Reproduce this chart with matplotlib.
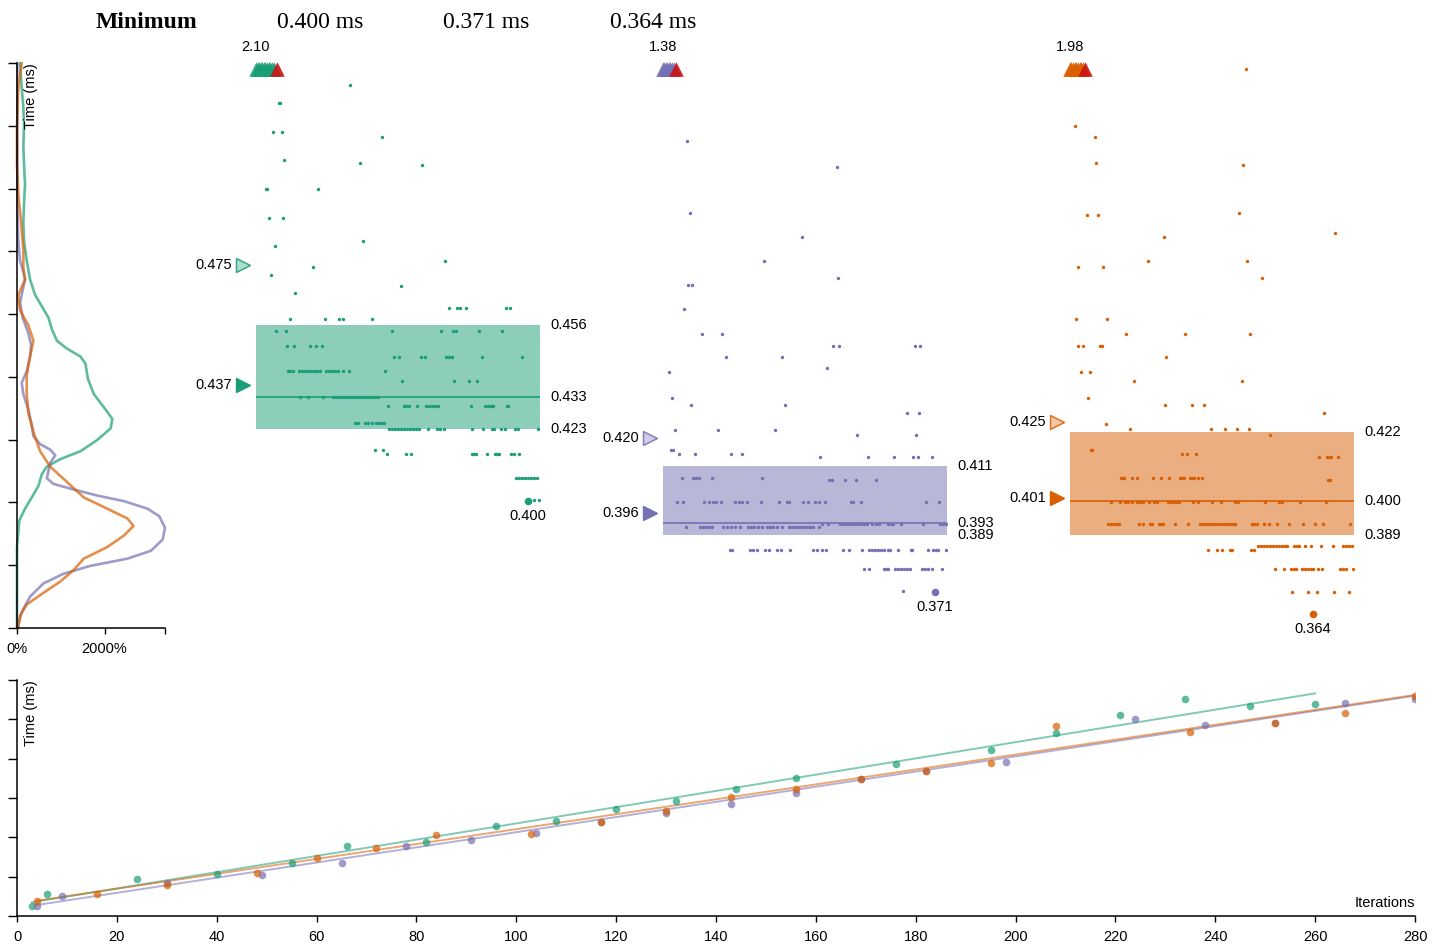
import numpy as np
import matplotlib
matplotlib.use("Agg")
import matplotlib.pyplot as plt
from matplotlib.patches import Rectangle
from matplotlib.transforms import blended_transform_factory, offset_copy

plt.rcParams['font.family'] = ['Liberation Sans', 'DejaVu Sans']

# ---------------- data ----------------
colors = ["#1b9e77", "#7570b3", "#d95f02"]

q1_vals = [0.423, 0.389, 0.389]
median_vals = [0.433, 0.393, 0.400]
q3_vals = [0.456, 0.411, 0.422]
mean_vals = [0.437, 0.396, 0.401]
upper_vals = [0.475, 0.420, 0.425]

# samples: (time in ms, [sample indices])
green_rows = [
    (0.5326, [94]), (0.5266, [23, 24]), (0.5175, [17, 26]), (0.5160, [126]),
    (0.5085, [28]), (0.5077, [104]), (0.5070, [166]), (0.4993, [10, 11, 62]),
    (0.4902, [13, 27]), (0.4827, [107]), (0.4813, [19]), (0.4764, [189]),
    (0.4744, [57]), (0.4721, [15]), (0.4686, [145]), (0.4663, [39]),
    (0.4613, [193, 201, 204, 210, 250, 254]),
    (0.4578, [34, 69, 83, 87, 116]),
    (0.4540, [20, 30, 136, 185, 197, 200, 223, 246]),
    (0.4495, [31, 38, 54, 60, 66]),
    (0.4457, [138, 143, 165, 169, 190, 193, 196, 226, 266]),
    (0.4413, [32, 34, 37, 43, 46, 49, 52, 55, 58, 61, 64, 70, 73, 76, 79, 82, 87, 93, 129]),
    (0.4381, [146, 198, 213, 221]),
    (0.4330, [44, 52, 67, 77, 80, 83, 86, 89, 92, 95, 98, 101, 104, 107, 110, 113, 116, 119, 122]),
    (0.4302, [132, 148, 150, 153, 161, 170, 173, 176, 179, 182, 215, 229, 232, 235, 237, 251, 252]),
    (0.4247, [99, 102, 109, 112, 116, 120, 123, 125, 128]),
    (0.4228, [133, 136, 139, 142, 145, 148, 151, 154, 157, 160, 163, 172, 181, 184, 188, 216,
              227, 236, 238, 245, 249, 259, 262, 282]),
    (0.4162, [119, 127]),
    (0.4149, [131, 150, 155, 216, 218, 220, 231, 239, 241, 243, 255, 258, 263]),
    (0.4073, [260, 263, 266, 269, 272, 275, 278, 281]),
    (0.4003, [278, 283]),
    (0.4000, [272]),
]
purple_rows = [
    (0.5147, [24]), (0.5064, [174]), (0.4916, [27]), (0.4840, [139]),
    (0.4764, [101]), (0.4709, [175]), (0.4687, [25, 29]), (0.4610, [21]),
    (0.4533, [39, 59]), (0.4495, [170, 176, 252, 257]), (0.4457, [63, 119]),
    (0.4423, [164]), (0.4412, [6]), (0.4329, [9]), (0.4304, [28, 122]),
    (0.4281, [244, 256]), (0.4227, [12, 55, 112]), (0.4210, [194, 253]),
    (0.4162, [8, 10]), (0.4149, [16, 32, 68, 79]),
    (0.4139, [157, 205, 231, 250, 255, 269]),
    (0.4073, [19, 30, 33, 36, 49, 99]),
    (0.4067, [166, 169, 182, 193, 213]),
    (0.3997, [14, 20, 41, 46, 50, 53, 58, 72, 76, 79, 84, 98, 116, 124, 126, 140, 145, 152,
              156, 162, 188, 190, 198, 263, 276]),
    (0.3925, [159, 165, 177, 180, 183, 186, 189, 192, 195, 198, 201, 204, 209, 213, 216, 225,
              228, 230, 238, 260, 277, 280, 283]),
    (0.3918, [23, 37, 40, 43, 46, 49, 60, 64, 68, 72, 77, 85, 88, 91, 95, 99, 104, 107, 110,
              114, 119, 126, 129, 132, 135, 138, 141, 144, 147, 150, 156]),
    (0.3843, [67, 69, 87, 90, 94, 102, 106, 114, 118, 127, 150, 154, 159, 163, 180, 186, 199,
              206, 209, 212, 215, 218, 221, 225, 227, 235, 248, 249, 265, 270, 273, 275, 283]),
    (0.3783, [201, 206, 221, 223, 225, 232, 235, 238, 241, 244, 247, 259, 262, 265, 269, 279]),
    (0.3712, [240]),
    (0.3710, [272]),
]
orange_rows = [
    (0.5377, [176]), (0.5193, [5]), (0.5160, [25]), (0.5076, [26]), (0.5070, [173]),
    (0.4916, [169]), (0.4911, [17, 28]), (0.4852, [265]), (0.4840, [94]),
    (0.4764, [78, 177]), (0.4744, [8, 33]), (0.4709, [192]), (0.4579, [6, 37]),
    (0.4533, [56, 115, 180]), (0.4495, [8, 13, 30, 32]), (0.4457, [96]),
    (0.4412, [11, 20]), (0.4381, [64, 172]), (0.4329, [18]), (0.4304, [95, 122, 134]),
    (0.4281, [254]), (0.4246, [36]), (0.4228, [60, 141, 155, 167, 179]), (0.4210, [200]),
    (0.4162, [21, 22]), (0.4149, [112, 117, 126]), (0.4139, [249, 257, 259, 261, 268]),
    (0.4073, [51, 52, 54, 62, 67, 83, 91, 99, 110, 112, 114, 120, 122, 124, 128, 132]),
    (0.4067, [258, 260]),
    (0.3997, [41, 50, 55, 58, 62, 67, 70, 73, 79, 84, 87, 98, 101, 104, 107, 109, 123, 128,
              142, 151, 165, 168, 195, 209, 212, 230, 256]),
    (0.3925, [38, 41, 44, 47, 49, 69, 73, 80, 82, 89, 91, 93, 105, 118, 130, 133, 136, 139,
              142, 145, 148, 151, 154, 157, 160, 163, 165, 182, 184, 187, 194, 199, 207, 219,
              233, 245, 253, 280]),
    (0.3855, [188, 191, 194, 197, 200, 203, 206, 209, 212, 215, 217, 224, 227, 229, 235, 241,
              251, 263, 273, 276, 279, 282]),
    (0.3843, [138, 147, 152, 160, 162, 181, 184]),
    (0.3783, [205, 214, 221, 224, 226, 232, 235, 238, 241, 243, 248, 252, 270, 273, 276, 283]),
    (0.3711, [222, 238, 247, 264, 279]),
    (0.3640, [243]),
]
all_rows = [green_rows, purple_rows, orange_rows]

# outliers above the plotted range (sample index, time in ms)
green_out_idx = [0, 2, 3, 5, 6, 8, 9, 11, 13, 14, 16, 18, 21]
green_out_val = [0.62, 0.71, 0.58, 0.84, 0.66, 0.93, 0.60, 0.77, 0.69, 1.12, 0.64, 0.81, 2.10]
purple_out_idx = [0, 1, 3, 4, 6, 7, 9, 11, 13]
purple_out_val = [0.58, 0.64, 0.72, 0.60, 0.86, 0.67, 0.61, 0.75, 1.38]
orange_out_idx = [0, 1, 3, 5, 6, 8, 10, 11, 13, 15]
orange_out_val = [0.60, 0.74, 0.66, 0.92, 0.58, 0.70, 0.63, 0.81, 0.68, 1.98]
out_idx = [green_out_idx, purple_out_idx, orange_out_idx]
out_val = [green_out_val, purple_out_val, orange_out_val]

# density curves (time ms, density %)
green_dens_t = [0.3595, 0.3853, 0.3938, 0.3975, 0.4011, 0.4048, 0.4085, 0.4109, 0.4133, 0.4158,
                0.4194, 0.4231, 0.4261, 0.4291, 0.4340, 0.4389, 0.4437, 0.4460, 0.4485, 0.4510,
                0.4546, 0.4583, 0.4620, 0.4656, 0.4705, 0.4766, 0.4827, 0.4887, 0.4948, 0.5009,
                0.5070, 0.5131, 0.5192, 0.5253, 0.5314, 0.5395]
green_dens_p = [0, 0, 54, 184, 337, 490, 567, 682, 989, 1449, 1833, 2139, 2178, 2024, 1756, 1619,
                1564, 1449, 1143, 913, 798, 720, 567, 414, 299, 222, 161, 145, 161, 184, 161, 145,
                161, 145, 108, 69]
purple_dens_t = [0.3595, 0.3646, 0.3695, 0.3737, 0.3768, 0.3793, 0.3816, 0.3841, 0.3877, 0.3914,
                 0.3951, 0.3975, 0.3999, 0.4017, 0.4036, 0.4054, 0.4072, 0.4096, 0.4121, 0.4145,
                 0.4163, 0.4181, 0.4206, 0.4242, 0.4291, 0.4340, 0.4376, 0.4413, 0.4460, 0.4497,
                 0.4534, 0.4583, 0.4632, 0.4681, 0.4705, 0.4729, 0.4766, 0.4827, 0.4948, 0.5192,
                 0.5395]
purple_dens_p = [7, 108, 299, 605, 1066, 1679, 2523, 3059, 3328, 3381, 3251, 2983, 2447, 1833,
                 1296, 835, 682, 720, 759, 874, 759, 529, 375, 337, 260, 145, 108, 222, 299, 322,
                 260, 130, 69, 145, 184, 145, 69, 30, 7, 7, 7]
orange_dens_t = [0.3595, 0.3634, 0.3670, 0.3707, 0.3743, 0.3780, 0.3816, 0.3853, 0.3890, 0.3920,
                 0.3944, 0.3975, 0.4011, 0.4060, 0.4109, 0.4158, 0.4219, 0.4279, 0.4340, 0.4400,
                 0.4460, 0.4510, 0.4559, 0.4607, 0.4656, 0.4705, 0.4742, 0.4802, 0.4863, 0.4924,
                 0.4973, 0.5070, 0.5192, 0.5314, 0.5395]
orange_dens_p = [30, 69, 222, 605, 989, 1296, 1525, 2063, 2447, 2661, 2523, 2063, 1525, 1143, 759,
                 529, 375, 260, 222, 222, 299, 375, 260, 69, 30, 184, 145, 145, 108, 69, 30, 0, 0,
                 30, 108]
dens_t = [green_dens_t, purple_dens_t, orange_dens_t]
dens_p = [green_dens_p, purple_dens_p, orange_dens_p]

# regression panel: iterations vs total time (ms)
green_iters = [3, 6, 24, 40, 55, 66, 82, 96, 108, 120, 132, 144, 156, 176, 195, 208, 221, 234, 247, 260]
green_times = [5.2, 11.3, 18.8, 21.2, 26.9, 35.7, 37.5, 45.9, 48.5, 54.2, 58.6, 64.7, 70.3, 77.1,
               84.2, 93.2, 102.2, 110.2, 106.6, 107.8]
purple_iters = [4, 9, 30, 49, 65, 78, 91, 104, 117, 130, 143, 156, 169, 182, 198, 224, 238, 252, 266, 280]
purple_times = [5.2, 10.0, 16.9, 20.7, 26.9, 35.6, 38.5, 42.2, 47.9, 52.2, 56.9, 62.5, 69.5, 73.7,
                78.5, 100.2, 97.1, 98.0, 108.3, 110.5]
orange_iters = [4, 16, 30, 48, 60, 72, 84, 103, 117, 130, 143, 156, 169, 182, 195, 208, 235, 252, 266, 280]
orange_times = [7.8, 11.0, 15.6, 21.7, 29.6, 34.7, 41.0, 41.5, 47.9, 53.4, 60.4, 64.7, 69.5, 73.7,
                77.8, 96.5, 93.6, 98.0, 103.4, 111.9]
reg_iters = [green_iters, purple_iters, orange_iters]
reg_times = [green_times, purple_times, orange_times]
reg_slope = [0.4132, 0.3855, 0.3790]
reg_intercept = [5.76, 4.06, 6.28]

# ---------------- layout ----------------
W, H = 1444, 944
fig = plt.figure(figsize=(W / 100, H / 100), dpi=100)


def rect(x0, y0, x1, y1):
    return [x0 / W, 1 - y1 / H, (x1 - x0) / W, (y1 - y0) / H]


TIME_RANGE = (0.3595, 0.5395)
N_SAMPLES = 284
TOP, BOTTOM = 63, 628
col_left = [256, 663, 1070]
FS = 10.5


def px(ax, trans, dx=0, dy=0):
    return offset_copy(trans, fig=fig, x=dx, y=dy, units='dots')


minimums = []
for i, rows in enumerate(all_rows):
    col = colors[i]
    ax = fig.add_axes(rect(col_left[i], TOP, col_left[i] + N_SAMPLES, BOTTOM))
    ax.set_xlim(0, N_SAMPLES)
    ax.set_ylim(*TIME_RANGE)
    ax.axis('off')
    xs, ys = [], []
    for v, idxs in rows:
        xs += idxs
        ys += [v] * len(idxs)
    ax.add_patch(Rectangle((0, q1_vals[i]), N_SAMPLES, q3_vals[i] - q1_vals[i],
                           facecolor=col, alpha=0.5, lw=0, zorder=1))
    ax.plot([0, N_SAMPLES], [median_vals[i]] * 2, color=col, lw=1.2, zorder=2)
    ax.scatter(xs, ys, s=6, color=col, lw=0, zorder=3)
    k = int(np.argmin(ys))
    minimums.append(ys[k])
    ax.scatter([xs[k]], [ys[k]], s=30, color=col, lw=0, zorder=4)
    ax.text(xs[k], ys[k], f"{ys[k]:.3f}", transform=px(ax, ax.transData, dy=-15),
            ha='center', va='center', fontsize=FS)

    tr_r = blended_transform_factory(ax.transAxes, ax.transData)
    for val in (q3_vals[i], median_vals[i], q1_vals[i]):
        ax.text(1, val, f"{val:.3f}", transform=px(ax, tr_r, dx=10), ha='left', va='center',
                fontsize=FS)
    # mean markers on the left
    ax.plot([0], [mean_vals[i]], marker='>', ms=9.5, color=col, mec=col, lw=0,
            transform=px(ax, tr_r, dx=-13), clip_on=False)
    ax.text(0, mean_vals[i], f"{mean_vals[i]:.3f}", transform=px(ax, tr_r, dx=-24),
            ha='right', va='center', fontsize=FS)
    ax.plot([0], [upper_vals[i]], marker='>', ms=9.5, mfc=col, mec=col, lw=0, alpha=0.35,
            transform=px(ax, tr_r, dx=-13), clip_on=False)
    ax.plot([0], [upper_vals[i]], marker='>', ms=9.5, mfc='none', mec=col, mew=1.0, lw=0,
            alpha=0.8, transform=px(ax, tr_r, dx=-13), clip_on=False)
    ax.text(0, upper_vals[i], f"{upper_vals[i]:.3f}", transform=px(ax, tr_r, dx=-24),
            ha='right', va='center', fontsize=FS)

    # outliers as triangles at top
    tr_t = blended_transform_factory(ax.transData, ax.transAxes)
    oi, ov = out_idx[i], out_val[i]
    m = int(np.argmax(ov))
    others = [j for j in range(len(oi)) if j != m]
    ax.scatter([oi[j] for j in others], [1] * len(others), marker='^', s=110, color=col,
               alpha=0.85, lw=0, transform=px(ax, tr_t, dy=-6), clip_on=False, zorder=5)
    ax.scatter([oi[m]], [1], marker='^', s=110, color='#cc1111', alpha=0.9, lw=0,
               transform=px(ax, tr_t, dy=-6), clip_on=False, zorder=6)
    ax.text(oi[0], 1, f"{ov[m]:.2f}", transform=px(ax, tr_t, dy=16), ha='center',
            va='center', fontsize=FS)

# density panel
axd = fig.add_axes(rect(17, TOP, 165, BOTTOM))
for i in range(3):
    axd.plot(dens_p[i], dens_t[i], color=colors[i], alpha=0.7, lw=1.9,
             solid_joinstyle='round', solid_capstyle='round', clip_on=False)
xmax = max(max(p) for p in dens_p)
axd.set_xlim(0, xmax)
axd.set_ylim(*TIME_RANGE)
axd.set_yticks(np.linspace(TIME_RANGE[0], TIME_RANGE[1], 10))
axd.set_yticklabels([])
axd.set_xticks([0, 2000, xmax])
axd.set_xticklabels(['0%', '2000%', ''])
for s in ('top', 'right'):
    axd.spines[s].set_visible(False)
for s in ('left', 'bottom'):
    axd.spines[s].set_linewidth(1.1)
axd.tick_params(axis='y', length=6.5, width=1.0)
axd.tick_params(axis='x', length=4.5, width=1.0, labelsize=FS, pad=5.5)
fig.text(31 / W, 1 - TOP / H, "Time (ms)", rotation=90, ha='center', va='top', fontsize=FS)

# header
serif = ['Liberation Serif', 'DejaVu Serif']
fig.text(146.5 / W, 1 - 23 / H, "Minimum", family=serif, fontweight='bold', fontsize=17,
         ha='center', va='center')
for i, xc in enumerate([320.5, 486.5, 653.5]):
    fig.text(xc / W, 1 - 23 / H, f"{minimums[i]:.3f} ms", family=serif, fontsize=17,
             ha='center', va='center')

# regression panel
axb = fig.add_axes(rect(17, 680, 1415, 916))
for i in range(3):
    it = reg_iters[i]
    xl = np.array([it[0], it[-1]])
    axb.plot(xl, reg_intercept[i] + reg_slope[i] * xl, color=colors[i], alpha=0.55, lw=1.4)
    axb.scatter(it, reg_times[i], s=30, color=colors[i], alpha=0.7, lw=0, zorder=3)
axb.set_xlim(0, 280)
axb.set_ylim(0, 120)
axb.set_xticks(range(0, 281, 20))
axb.set_yticks(range(0, 121, 20))
axb.set_yticklabels([])
for s in ('top', 'right'):
    axb.spines[s].set_visible(False)
for s in ('left', 'bottom'):
    axb.spines[s].set_linewidth(1.1)
axb.tick_params(axis='y', length=6.5, width=1.0)
axb.tick_params(axis='x', length=4.5, width=1.0, labelsize=FS, pad=5.5)
fig.text(31 / W, 1 - 680 / H, "Time (ms)", rotation=90, ha='center', va='top', fontsize=FS)
fig.text(1415 / W, 1 - 903 / H, "Iterations", ha='right', va='center', fontsize=FS)

fig.savefig("out.png", dpi=100)
